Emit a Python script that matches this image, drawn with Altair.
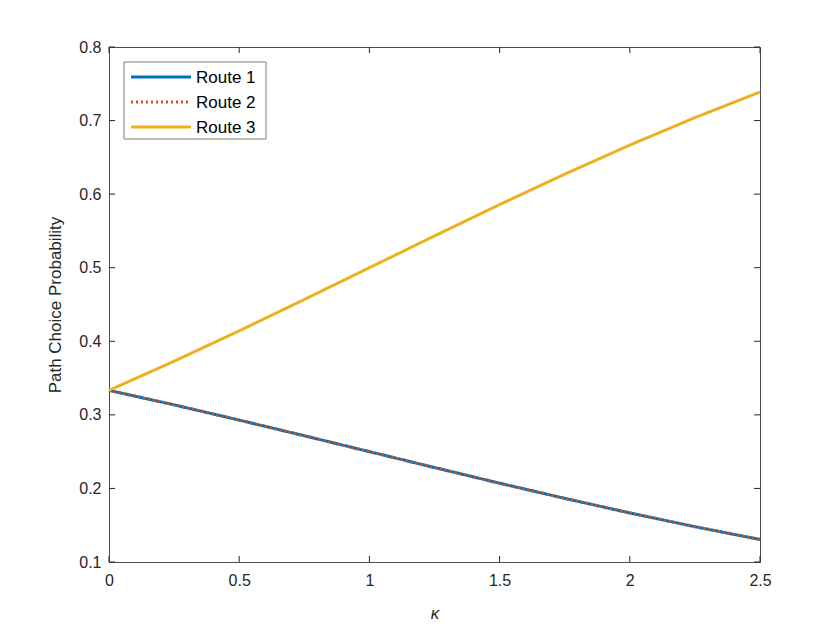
import altair as alt
import pandas as pd

kappa = [0.0, 0.25, 0.5, 0.75, 1.0, 1.25, 1.5, 1.75, 2.0, 2.25, 2.5]
route1 = [0.3333, 0.3136, 0.2929, 0.2716, 0.2500, 0.2284, 0.2071, 0.1865, 0.1667, 0.1480, 0.1306]
route2 = [0.3333, 0.3136, 0.2929, 0.2716, 0.2500, 0.2284, 0.2071, 0.1865, 0.1667, 0.1480, 0.1306]
route3 = [0.3333, 0.3729, 0.4142, 0.4568, 0.5000, 0.5432, 0.5858, 0.6271, 0.6667, 0.7040, 0.7388]
series = ["Route 1", "Route 2", "Route 3"]
colors = ["#0072BD", "#D95319", "#EDB120"]
dashes = [[1, 0], [2, 3], [1, 0]]
x_ticks = [0, 0.5, 1, 1.5, 2, 2.5]
y_ticks = [0.1, 0.2, 0.3, 0.4, 0.5, 0.6, 0.7, 0.8]

W, H = 651, 515
rows = []
for name, vals in zip(series, [route1, route2, route3]):
    for k, v in zip(kappa, vals):
        rows.append({"kappa": k, "p": v, "route": name})
df = pd.DataFrame(rows)

FONT = "Liberation Sans"
AX = "#262626"

xs = alt.Scale(domain=[0, 2.5], nice=False, zero=False)
ys = alt.Scale(domain=[0.1, 0.8], nice=False, zero=False)
x_axis = alt.Axis(values=x_ticks, grid=False, ticks=False, labelPadding=10, labelFlush=False,
                  titleFontStyle="italic", titlePadding=17, format="~g")
y_axis = alt.Axis(values=y_ticks, grid=False, ticks=False, labelPadding=8, labelFlush=False,
                  titlePadding=14, format="~g")
XT = "κ"
YT = "Path Choice Probability"

lines = alt.Chart(df).mark_line(strokeWidth=3).encode(
    x=alt.X("kappa:Q", scale=xs, title=XT, axis=x_axis),
    y=alt.Y("p:Q", scale=ys, title=YT, axis=y_axis),
    color=alt.Color("route:N", scale=alt.Scale(domain=series, range=colors), legend=None),
    strokeDash=alt.StrokeDash("route:N", scale=alt.Scale(domain=series, range=dashes),
                              legend=None),
    order=alt.Order("route:N"),
)

xt = pd.DataFrame({"v": x_ticks})
yt = pd.DataFrame({"v": y_ticks})
bx = alt.Chart(xt).mark_rule(color=AX, strokeWidth=1).encode(
    x=alt.X("v:Q", scale=xs, title=XT, axis=x_axis), y=alt.value(H), y2=alt.value(H - 6))
tx = alt.Chart(xt).mark_rule(color=AX, strokeWidth=1).encode(
    x=alt.X("v:Q", scale=xs, title=XT, axis=x_axis), y=alt.value(0), y2=alt.value(6))
ly = alt.Chart(yt).mark_rule(color=AX, strokeWidth=1).encode(
    y=alt.Y("v:Q", scale=ys, title=YT, axis=y_axis), x=alt.value(0), x2=alt.value(6))
ry = alt.Chart(yt).mark_rule(color=AX, strokeWidth=1).encode(
    y=alt.Y("v:Q", scale=ys, title=YT, axis=y_axis), x=alt.value(W - 6), x2=alt.value(W))

# manual legend
leg_box = alt.Chart(pd.DataFrame({"a": [0]})).mark_rect(
    fill="white", stroke="#808080", strokeWidth=1).encode(
    x=alt.value(15), x2=alt.value(157), y=alt.value(15), y2=alt.value(92))
leg_layers = [leg_box]
row_y = [30, 55, 80]
for name, col, dash, yy in zip(series, colors, dashes, row_y):
    d = pd.DataFrame({"route": [name]})
    leg_layers.append(alt.Chart(d).mark_rule(color=col, strokeWidth=3, strokeDash=dash).encode(
        x=alt.value(22), x2=alt.value(82), y=alt.value(yy)))
    leg_layers.append(alt.Chart(d).mark_text(align="left", baseline="middle", font=FONT,
                                             fontSize=17, color="black").encode(
        x=alt.value(87), y=alt.value(yy + 1), text="route:N"))

chart = alt.layer(lines, bx, tx, ly, ry, *leg_layers).properties(
    width=W, height=H,
    padding={"left": 101, "top": 39, "right": 70, "bottom": 60},
    autosize=alt.AutoSizeParams(type="none"),
    background="white",
).configure_view(stroke="#4d4d4d", strokeWidth=1).configure_axis(
    domainColor="#4d4d4d", domainWidth=1, labelFont=FONT, titleFont=FONT,
    labelFontSize=16, titleFontSize=17, labelColor=AX, titleColor=AX,
    titleFontWeight="normal",
)

chart.save("out.html", embed_options={"renderer": "svg", "actions": False})
